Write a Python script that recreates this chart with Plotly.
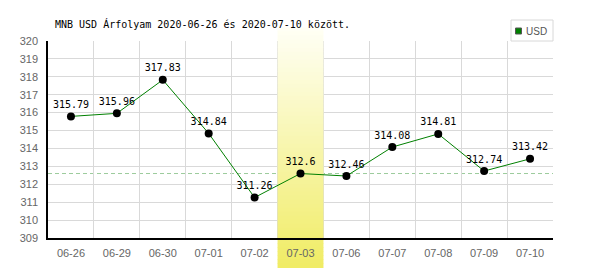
import plotly.graph_objects as go

dates = ["06-26", "06-29", "06-30", "07-01", "07-02", "07-03",
         "07-06", "07-07", "07-08", "07-09", "07-10"]
usd = [315.79, 315.96, 317.83, 314.84, 311.26, 312.6,
       312.46, 314.08, 314.81, 312.74, 313.42]
labels = ["315.79", "315.96", "317.83", "314.84", "311.26", "312.6",
          "312.46", "314.08", "314.81", "312.74", "313.42"]
highlight_index = 5
series_name = "USD"
title_text = "MNB USD Árfolyam 2020-06-26 és 2020-07-10 között."
y_min, y_max = 309, 320

W, H = 600, 270
L, R, T, B = 48, 47, 41, 32
plot_h = H - T - B
plot_w = W - L - R


def py(pix):
    return (H - B - pix) / plot_h


def px(pix):
    return (pix - L) / plot_w


def dy(pix):
    return y_min + (H - B - pix) / plot_h * (y_max - y_min)


fig = go.Figure()

fig.add_trace(go.Scatter(
    x=dates, y=usd, mode="lines+markers+text",
    line=dict(color="#008000", width=1),
    marker=dict(color="black", size=8),
    text=labels, textposition="top center",
    textfont=dict(family="DejaVu Sans Mono", size=10, color="black"),
    cliponaxis=False, showlegend=False, name=series_name,
))

shapes = []
# reference dashed line at highlighted value
shapes.append(dict(type="line", xref="paper", yref="y", x0=0, x1=1,
                   y0=usd[highlight_index], y1=usd[highlight_index],
                   line=dict(color="#9ccc9c", width=1, dash="4px,3px"),
                   layer="below"))
# gradient highlight band
top_px, bot_px = 28, 268
plot_top, plot_bot = T, H - B
n = 60
c0 = (255, 255, 246)
c1 = (240, 236, 100)
for i in range(n):
    a = top_px + (bot_px - top_px) * i / n
    b = top_px + (bot_px - top_px) * (i + 1) / n
    t = (i + 0.5) / n
    col = "rgb(%d,%d,%d)" % tuple(round(c0[k] + (c1[k] - c0[k]) * t) for k in range(3))
    segs = []
    if a < plot_top:
        segs.append(("out", a, min(b, plot_top)))
    if b > plot_bot:
        segs.append(("out", max(a, plot_bot), b))
    ia, ib = max(a, plot_top), min(b, plot_bot)
    if ib > ia:
        segs.append(("in", ia, ib))
    for kind, s0, s1 in segs:
        if kind == "in":
            shapes.append(dict(type="rect", xref="x", yref="y",
                               x0=highlight_index - 0.5, x1=highlight_index + 0.5,
                               y0=dy(s1), y1=dy(s0) + 0.01,
                               fillcolor=col, line=dict(width=0),
                               layer="between"))
        else:
            shapes.append(dict(type="rect", xref="x", yref="paper",
                               x0=highlight_index - 0.5, x1=highlight_index + 0.5,
                               y0=py(s1), y1=py(s0) + 0.002,
                               fillcolor=col, line=dict(width=0),
                               layer="below"))
# legend box
shapes.append(dict(type="rect", xref="paper", yref="paper",
                   x0=px(511), x1=px(553), y0=py(41), y1=py(20),
                   line=dict(color="#d8d8d8", width=1), fillcolor="white",
                   layer="above"))
shapes.append(dict(type="rect", xref="paper", yref="paper",
                   x0=px(515.5), x1=px(521.5), y0=py(34), y1=py(28),
                   line=dict(color="#555555", width=1), fillcolor="#008000",
                   layer="above"))

annotations = [
    dict(text=title_text, xref="paper", yref="paper", x=px(53), y=py(24),
         xanchor="left", yanchor="middle", showarrow=False,
         font=dict(family="DejaVu Sans Mono", size=10, color="black")),
    dict(text=series_name, xref="paper", yref="paper", x=px(524), y=py(31),
         xanchor="left", yanchor="middle", showarrow=False,
         font=dict(family="Liberation Sans", size=10, color="#555555")),
]

fig.update_layout(
    width=W, height=H,
    margin=dict(l=L, r=R, t=T, b=B, pad=0),
    paper_bgcolor="white", plot_bgcolor="white",
    shapes=shapes, annotations=annotations,
    showlegend=False,
)
fig.update_xaxes(
    type="category", tickson="boundaries", ticks="",
    showgrid=True, gridcolor="#d9d9d9", gridwidth=1,
    showline=True, linecolor="black", linewidth=1.5,
    tickfont=dict(family="Liberation Sans", size=11, color="#666666"),
    ticklabelstandoff=4,
    range=[-0.5, len(dates) - 0.5], mirror=False, zeroline=False,
)
fig.update_yaxes(
    range=[y_min, y_max], dtick=1, ticks="",
    showgrid=True, gridcolor="#d9d9d9", gridwidth=1,
    showline=True, linecolor="black", linewidth=1.5,
    tickfont=dict(family="Liberation Sans", size=11, color="#666666"),
    ticklabelstandoff=6, zeroline=False,
)

fig.write_html("out.html")
